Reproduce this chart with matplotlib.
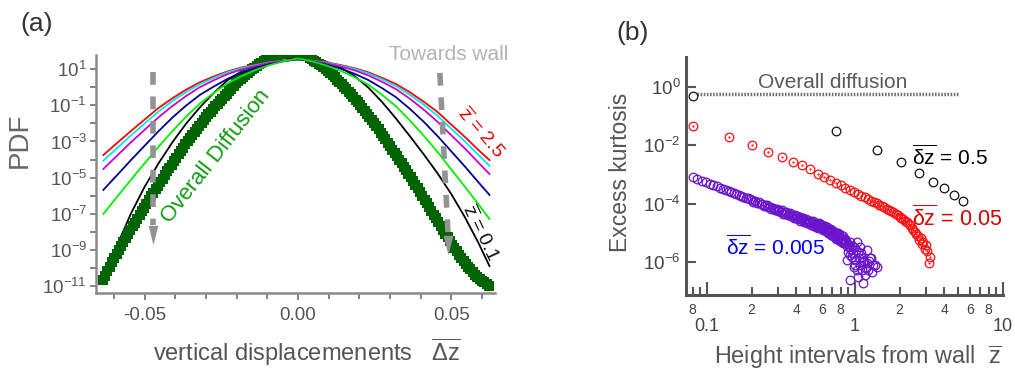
import numpy as np
import matplotlib
matplotlib.use("Agg")
import matplotlib.pyplot as plt
from matplotlib.ticker import FixedLocator, FixedFormatter, NullLocator

plt.rcParams['font.family'] = ['Liberation Sans', 'DejaVu Sans']
plt.rcParams['mathtext.fontset'] = 'custom'
plt.rcParams['mathtext.rm'] = 'Liberation Sans'
plt.rcParams['mathtext.it'] = 'Liberation Sans:italic'
plt.rcParams['mathtext.bf'] = 'Liberation Sans:bold'
plt.rcParams['axes.unicode_minus'] = False

# ---------------- panel (a) data : log10(PDF) ----------------
v_grid = [-0.0635, -0.059, -0.0545, -0.05, -0.0455, -0.041, -0.0365, -0.032, -0.0275,
          -0.023, -0.0185, -0.014, -0.0095, -0.005, 0.0, 0.005, 0.0095, 0.014, 0.0185,
          0.023, 0.0275, 0.032, 0.0365, 0.041, 0.0455, 0.05, 0.0545, 0.059, 0.0625]
pdf_red = [-3.75, -3.08, -2.42, -1.78, -1.14, -0.61, -0.13, 0.28, 0.60, 0.88, 1.10, 1.25, 1.39, 1.48, 1.53,
           1.48, 1.38, 1.23, 1.06, 0.83, 0.52, 0.18, -0.27, -0.79, -1.36, -2.06, -2.75, -3.49, -4.03]
pdf_cyan = [-4.06, -3.36, -2.66, -2.00, -1.34, -0.76, -0.26, 0.18, 0.52, 0.83, 1.06, 1.22, 1.37, 1.47, 1.54,
            1.46, 1.36, 1.19, 1.02, 0.77, 0.44, 0.07, -0.41, -0.95, -1.57, -2.29, -3.00, -3.76, -4.34]
pdf_magenta = [-4.52, -3.78, -3.04, -2.35, -1.66, -1.04, -0.48, 0.01, 0.39, 0.73, 0.98, 1.18, 1.34, 1.46, 1.55,
               1.45, 1.32, 1.15, 0.94, 0.66, 0.30, -0.10, -0.63, -1.23, -1.90, -2.65, -3.39, -4.19, -4.80]
pdf_navy = [-5.68, -4.86, -4.03, -3.23, -2.43, -1.68, -1.01, -0.42, 0.04, 0.47, 0.80, 1.06, 1.27, 1.43, 1.57,
            1.42, 1.25, 1.03, 0.75, 0.40, -0.05, -0.55, -1.19, -1.90, -2.69, -3.54, -4.39, -5.28, -5.96]
pdf_lime = [-7.01, -6.06, -5.12, -4.20, -3.29, -2.43, -1.62, -0.90, -0.31, 0.22, 0.61, 0.95, 1.22, 1.43, 1.60,
            1.42, 1.20, 0.91, 0.56, 0.14, -0.42, -1.05, -1.83, -2.67, -3.57, -4.54, -5.51, -6.50, -7.29]
pdf_black = [-10.2, -8.74, -6.99, -5.50, -4.21, -3.05, -2.01, -1.11, -0.31, 0.39, 0.88, 1.24, 1.47, 1.59, 1.65,
             1.57, 1.40, 1.10, 0.62, -0.02, -0.82, -1.73, -2.70, -3.70, -4.75, -5.90, -7.20, -8.65, -9.90]

overall_v_start = -0.0637
overall_v_step = 0.00075
pdf_overall = [-10.67, -10.43, -10.19, -9.95, -9.70, -9.46, -9.22, -9.00, -8.78, -8.56,
               -8.34, -8.12, -7.91, -7.70, -7.49, -7.28, -7.07, -6.86, -6.66, -6.45,
               -6.25, -6.04, -5.84, -5.64, -5.44, -5.24, -5.05, -4.85, -4.66, -4.47,
               -4.28, -4.09, -3.90, -3.71, -3.53, -3.34, -3.16, -2.98, -2.81, -2.63,
               -2.45, -2.29, -2.13, -1.97, -1.82, -1.66, -1.50, -1.35, -1.21, -1.06,
               -0.92, -0.77, -0.63, -0.49, -0.35, -0.21, -0.07, 0.08, 0.22, 0.34,
               0.45, 0.56, 0.67, 0.78, 0.89, 0.99, 1.08, 1.18, 1.27, 1.36,
               1.44, 1.51, 1.57, 1.64, 1.70, 1.76, 1.81, 1.84, 1.86, 1.89,
               1.91, 1.93, 1.94, 1.95, 1.94, 1.92, 1.90, 1.84, 1.78, 1.72,
               1.65, 1.57, 1.48, 1.40, 1.31, 1.22, 1.12, 1.03, 0.93, 0.81,
               0.68, 0.56, 0.43, 0.31, 0.18, 0.04, -0.11, -0.25, -0.39, -0.53,
               -0.68, -0.83, -0.99, -1.14, -1.30, -1.46, -1.62, -1.79, -1.97, -2.15,
               -2.33, -2.51, -2.69, -2.88, -3.07, -3.26, -3.45, -3.64, -3.83, -4.02,
               -4.21, -4.40, -4.60, -4.79, -4.99, -5.19, -5.40, -5.60, -5.81, -6.01,
               -6.22, -6.43, -6.64, -6.85, -7.06, -7.26, -7.47, -7.68, -7.89, -8.10,
               -8.31, -8.51, -8.71, -8.90, -9.08, -9.27, -9.46, -9.63, -9.80, -9.94,
               -10.08, -10.22, -10.37, -10.48, -10.59, -10.70, -10.80, -10.89, -10.98]

# ---------------- panel (b) data : log10(excess kurtosis) ----------------
black_x = [0.08, 0.74, 1.40, 2.05, 2.70, 3.38, 4.01, 4.69, 5.40]
black_k = [-0.30, -1.51, -2.17, -2.59, -2.95, -3.25, -3.48, -3.71, -3.91]

red_x_start, red_x_step = 0.08, 0.06
red_k = [-1.34, -1.71, -2.00, -2.23, -2.40, -2.56, -2.69, -2.83, -2.98, -3.09,
         -3.20, -3.29, -3.38, -3.46, -3.53, -3.60, -3.67, -3.73, -3.79, -3.85,
         -3.90, -3.95, -3.99, -4.04, -4.08, -4.13, -4.17, -4.22, -4.26, -4.30,
         -4.35, -4.40, -4.45, -4.49, -4.54, -4.59, -4.64, -4.69, -4.74, -4.82,
         -4.89, -4.97, -5.05, -5.10, -5.25, -5.18, -5.38, -5.30, -5.55, -5.42,
         -5.62, -6.05, -5.84]

purple_x_start, purple_x_step = 0.08, 0.006
purple_k = [-3.10, -3.16, -3.22, -3.27, -3.32, -3.37, -3.41, -3.46, -3.50, -3.54,
            -3.57, -3.61, -3.64, -3.68, -3.71, -3.74, -3.77, -3.80, -3.82, -3.85,
            -3.86, -3.93, -3.92, -3.97, -3.94, -4.00, -4.00, -4.07, -4.06, -4.05,
            -4.12, -4.11, -4.17, -4.14, -4.17, -4.21, -4.18, -4.24, -4.22, -4.29,
            -4.23, -4.35, -4.29, -4.35, -4.28, -4.40, -4.35, -4.33, -4.43, -4.42,
            -4.39, -4.49, -4.40, -4.48, -4.41, -4.52, -4.50, -4.47, -4.58, -4.51,
            -4.57, -4.50, -4.62, -4.57, -4.53, -4.62, -4.66, -4.59, -4.67, -4.60,
            -4.58, -4.75, -4.64, -4.73, -4.60, -4.77, -4.69, -4.66, -4.81, -4.76,
            -4.70, -4.85, -4.68, -4.80, -4.69, -4.85, -4.80, -4.75, -4.91, -4.79,
            -4.87, -4.77, -4.93, -4.86, -4.79, -4.93, -4.99, -4.87, -4.99, -4.88,
            -4.86, -5.09, -4.94, -5.06, -4.89, -5.12, -5.00, -4.96, -5.16, -5.10,
            -5.01, -5.21, -4.99, -5.15, -5.00, -5.21, -5.15, -5.08, -5.29, -5.14,
            -5.24, -5.09, -5.30, -5.20, -5.11, -5.29, -5.36, -5.21]
purple_noise_x = [0.85, 0.86, 0.87, 0.88, 0.88, 0.89, 0.90, 0.91, 0.92, 0.93, 0.93, 0.94, 0.95,
                  0.96, 0.97, 0.98, 0.98, 1.00, 1.00, 1.02, 1.03, 1.03, 1.05, 1.05, 1.06, 1.08,
                  1.08, 1.10, 1.11, 1.11, 1.13, 1.14, 1.15, 1.17, 1.18, 1.20, 1.20, 1.23, 1.25,
                  1.26, 1.29, 1.30, 1.33, 1.37, 1.40]
purple_noise_k = [-5.22, -5.35, -5.28, -5.93, -5.45, -5.40, -5.65, -5.50, -5.30, -6.62, -5.75, -5.60, -5.82,
                  -5.45, -5.70, -6.16, -5.48, -5.93, -6.11, -5.60, -5.31, -6.28, -5.65, -6.51, -5.85, -5.48,
                  -6.11, -5.70, -5.88, -6.28, -6.00, -6.73, -5.95, -6.45, -6.20, -5.59, -6.05, -6.28, -5.95,
                  -5.88, -5.88, -6.34, -6.10, -6.11, -6.16]
overall_kurtosis = 0.575
overall_x_range = [0.085, 5.0]

# ---------------- figure ----------------
fig = plt.figure(figsize=(10.15, 3.72), dpi=100)
axA = fig.add_axes([96 / 1015, 1 - 293 / 372, 399 / 1015, 238 / 372])
axB = fig.add_axes([686 / 1015, 1 - 295 / 372, 317 / 1015, 238 / 372])

# ---- panel (a)
v = np.array(v_grid)
v_sq = overall_v_start + overall_v_step * np.arange(len(pdf_overall))
axA.plot(v, 10.0 ** np.array(pdf_black), color='#000000', lw=1.3, zorder=1.5)
axA.plot(v_sq, 10.0 ** np.array(pdf_overall), 's', color='#006400', ms=7.3, mew=0, zorder=2)
for vals, col in [(pdf_red, '#ff0000'), (pdf_cyan, '#00e6f0'), (pdf_magenta, '#cc00cc'),
                  (pdf_navy, '#00008f'), (pdf_lime, '#00ee00')]:
    axA.plot(v, 10.0 ** np.array(vals), color=col, lw=1.3, zorder=3)

axA.set_yscale('log')
axA.set_xlim(-0.0659, 0.0643)
axA.set_ylim(10 ** -11.39, 10 ** 1.79)
exps = list(range(-11, 2))
axA.yaxis.set_major_locator(FixedLocator([10.0 ** e for e in exps]))
axA.yaxis.set_major_formatter(FixedFormatter(['$10^{%d}$' % e if e % 2 else '' for e in exps]))
axA.yaxis.set_minor_locator(NullLocator())
axA.xaxis.set_major_locator(FixedLocator([-0.05, 0.0, 0.05]))
axA.xaxis.set_major_formatter(FixedFormatter(['-0.05', '0.00', '0.05']))
axA.xaxis.set_minor_locator(FixedLocator([-0.06, -0.04, -0.03, -0.02, -0.01, 0.01, 0.02, 0.03, 0.04, 0.06]))
for s in ['top', 'right']:
    axA.spines[s].set_visible(False)
for s in ['left', 'bottom']:
    axA.spines[s].set_color('#8a8a8a')
    axA.spines[s].set_linewidth(1.8)
axA.tick_params(axis='both', which='both', direction='out', color='#7a7a7a', width=1.3,
                labelcolor='#555555', labelsize=13.5)
axA.tick_params(axis='x', which='major', length=5, pad=5)
axA.tick_params(axis='x', which='minor', length=4)
axA.tick_params(axis='y', which='major', length=4.5, pad=2)

# dashed arrows "towards wall"
arrow_col = '#939393'
head = [(-0.25, 0.5), (0.25, 0.5), (0.0, -0.5)]
axA.plot([-0.0473, -0.0473], [10 ** 0.85, 10 ** -7.65], color=arrow_col, lw=4,
         dashes=(2.3, 2.1), solid_capstyle='butt', dash_capstyle='butt', zorder=4)
axA.plot([-0.0473], [10 ** -8.2], marker=head, ms=14, color=arrow_col, mew=0, zorder=4)
axA.plot([0.0463, 0.0490], [10 ** 0.80, 10 ** -8.2], color=arrow_col, lw=4,
         dashes=(2.3, 2.1), solid_capstyle='butt', dash_capstyle='butt', zorder=4)
axA.plot([0.0491], [10 ** -8.75], marker=head, ms=14, color=arrow_col, mew=0, zorder=4)

axA.text(0.301, 0.573, 'Overall Diffusion', transform=axA.transAxes, rotation=52,
         rotation_mode='anchor', ha='center', va='center', color='#169a16', fontsize=16, zorder=5)
axA.text(0.883, 1.0, 'Towards wall', transform=axA.transAxes, ha='center', va='center',
         color='#b4b4b4', fontsize=15)
axA.text(0.965, 0.672, r'$\overline{\mathrm{z}}$ = 2.5', transform=axA.transAxes, rotation=-50,
         rotation_mode='anchor', ha='center', va='center', color='#e00000', fontsize=14)
axA.text(0.962, 0.252, r'$\overline{\mathrm{z}}$ = 0.1', transform=axA.transAxes, rotation=-65,
         rotation_mode='anchor', ha='center', va='center', color='#111111', fontsize=14)
axA.text(-0.19, 0.641, 'PDF', transform=axA.transAxes, rotation=90, ha='center', va='center',
         color='#666666', fontsize=20)
axA.text(0.5276, -0.248, r'vertical displacemenents   $\overline{\mathrm{Δz}}$', transform=axA.transAxes,
         ha='center', va='center', color='#555555', fontsize=17)
fig.text(37 / 1015, 1 - 24 / 372, '(a)', ha='center', va='center', fontsize=19, color='#333333')

# ---- panel (b)
axB.plot(overall_x_range, [overall_kurtosis, overall_kurtosis], color='#6e6e6e', lw=2.5,
         linestyle=(0, (0.45, 0.45)), zorder=1)
rx = red_x_start + red_x_step * np.arange(len(red_k))
px = purple_x_start + purple_x_step * np.arange(len(purple_k))
axB.plot(px, 10.0 ** np.array(purple_k), 'o', mfc='none', mec='#6a14cc', ms=6.2, mew=0.9, zorder=2)
axB.plot(purple_noise_x, 10.0 ** np.array(purple_noise_k), 'o', mfc='none', mec='#6a14cc', ms=6.2,
         mew=0.9, zorder=2)
axB.plot(rx, 10.0 ** np.array(red_k), 'o', mfc='none', mec='#ff1010', ms=6.2, mew=0.9, zorder=3)
axB.plot(rx, 10.0 ** np.array(red_k), '.', color='#ff1010', ms=1.2, zorder=3)
axB.plot(black_x, 10.0 ** np.array(black_k), 'o', mfc='none', mec='#111111', ms=6.2, mew=0.9, zorder=3)

axB.set_xscale('log')
axB.set_yscale('log')
axB.set_xlim(10 ** -1.142, 10.0)
axB.set_ylim(10 ** -7.13, 10 ** 1.02)
axB.yaxis.set_major_locator(FixedLocator([1e-6, 1e-4, 1e-2, 1.0]))
axB.yaxis.set_major_formatter(FixedFormatter(['$10^{-6}$', '$10^{-4}$', '$10^{-2}$', '$10^{0}$']))
axB.yaxis.set_minor_locator(NullLocator())
axB.xaxis.set_major_locator(FixedLocator([0.1, 1.0, 10.0]))
axB.xaxis.set_major_formatter(FixedFormatter(['0.1', '1', '10']))
minor_pos = [0.08, 0.09] + [m * 0.1 for m in range(2, 10)] + [float(m) for m in range(2, 10)]
minor_lab = ['8', ''] + ['2', '', '4', '', '6', '', '8', ''] + ['2', '', '4', '', '6', '', '8', '']
axB.xaxis.set_minor_locator(FixedLocator(minor_pos))
axB.xaxis.set_minor_formatter(FixedFormatter(minor_lab))
for s in ['top', 'right']:
    axB.spines[s].set_visible(False)
for s in ['left', 'bottom']:
    axB.spines[s].set_color('#555555')
    axB.spines[s].set_linewidth(2.2)
axB.tick_params(axis='both', which='both', direction='in', color='#555555', width=1.5,
                labelcolor='#444444')
axB.tick_params(axis='x', which='major', length=9.5, pad=16.5, labelsize=13)
axB.tick_params(axis='x', which='minor', length=6, pad=5.5, labelsize=10)
axB.tick_params(axis='y', which='major', length=7, pad=4, labelsize=13.5)

axB.text(0.464, 0.891, 'Overall diffusion', transform=axB.transAxes, ha='center', va='center',
         color='#5a5a5a', fontsize=15)
axB.text(0.833, 0.580, r'$\overline{\mathrm{δz}}$ = 0.5', transform=axB.transAxes, ha='center',
         va='center', color='#000000', fontsize=15)
axB.text(0.855, 0.324, r'$\overline{\mathrm{δz}}$ = 0.05', transform=axB.transAxes, ha='center',
         va='center', color='#d80000', fontsize=15.5)
axB.text(0.284, 0.202, r'$\overline{\mathrm{δz}}$ = 0.005', transform=axB.transAxes, ha='center',
         va='center', color='#0000f0', fontsize=15)
axB.text(-0.208, 0.517, 'Excess kurtosis', transform=axB.transAxes, rotation=90, ha='center',
         va='center', color='#555555', fontsize=16.5)
axB.text(0.997, -0.26, r'Height intervals from wall  $\overline{\mathrm{z}}$', transform=axB.transAxes,
         ha='right', va='center', color='#555555', fontsize=16.8)
fig.text(633 / 1015, 1 - 33 / 372, '(b)', ha='center', va='center', fontsize=19, color='#333333')

fig.savefig('out.png', dpi=100)
